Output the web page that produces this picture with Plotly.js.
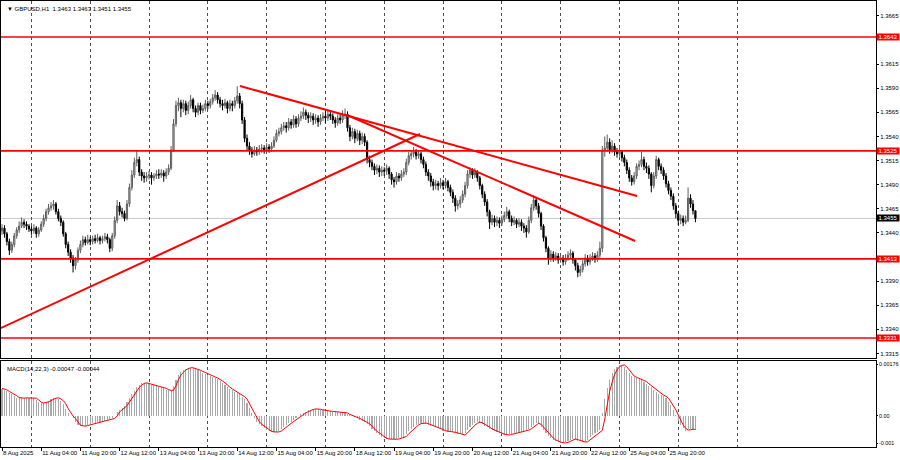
<!DOCTYPE html>
<html><head><meta charset="utf-8">
<script src="https://cdn.plot.ly/plotly-3.0.1.min.js"></script>
<style>html,body{margin:0;padding:0;background:#fff}#chart{width:900px;height:460px}</style>
</head><body><div id="chart"></div>
<script>
const symbolTitle = "\u25BC GBPUSD,H1  1.3463 1.3463 1.3451 1.3455";
const macdTitle = "MACD(14,22,3) -0.00047 -0.00044";

const open = [1.3442,1.3445,1.3439,1.3431,1.3422,1.3428,1.3437,1.3443,1.3447,1.3451,
1.3449,1.3447,1.3444,1.3442,1.3445,1.3439,1.3443,1.3449,1.3455,1.3462,
1.3466,1.3468,1.3470,1.3462,1.3455,1.3451,1.3439,1.3428,1.3420,1.3414,
1.3406,1.3412,1.3422,1.3428,1.3433,1.3430,1.3433,1.3431,1.3434,1.3432,
1.3435,1.3432,1.3434,1.3436,1.3433,1.3424,1.3437,1.3453,1.3468,1.3462,
1.3460,1.3455,1.3470,1.3487,1.3500,1.3513,1.3516,1.3503,1.3499,1.3497,
1.3499,1.3500,1.3497,1.3499,1.3501,1.3500,1.3502,1.3499,1.3503,1.3507,
1.3526,1.3553,1.3572,1.3575,1.3569,1.3574,1.3567,1.3572,1.3578,1.3569,
1.3565,1.3572,1.3567,1.3569,1.3574,1.3572,1.3576,1.3580,1.3583,1.3578,
1.3574,1.3572,1.3575,1.3569,1.3574,1.3572,1.3577,1.3582,1.3574,1.3557,
1.3538,1.3530,1.3526,1.3522,1.3526,1.3524,1.3527,1.3528,1.3526,1.3529,
1.3527,1.3530,1.3536,1.3543,1.3545,1.3549,1.3551,1.3549,1.3555,1.3552,
1.3558,1.3553,1.3559,1.3561,1.3565,1.3562,1.3559,1.3561,1.3557,1.3559,
1.3555,1.3559,1.3561,1.3559,1.3563,1.3561,1.3557,1.3554,1.3559,1.3557,
1.3562,1.3563,1.3549,1.3540,1.3545,1.3538,1.3543,1.3536,1.3540,1.3534,
1.3516,1.3513,1.3509,1.3505,1.3507,1.3503,1.3505,1.3504,1.3507,1.3501,
1.3495,1.3493,1.3499,1.3497,1.3501,1.3503,1.3513,1.3520,1.3522,1.3524,
1.3520,1.3522,1.3516,1.3511,1.3503,1.3499,1.3493,1.3489,1.3491,1.3489,
1.3492,1.3489,1.3493,1.3487,1.3482,1.3476,1.3468,1.3470,1.3474,1.3480,
1.3489,1.3501,1.3505,1.3500,1.3503,1.3497,1.3489,1.3480,1.3472,1.3462,
1.3451,1.3455,1.3451,1.3453,1.3450,1.3454,1.3458,1.3462,1.3455,1.3451,
1.3453,1.3449,1.3451,1.3447,1.3445,1.3441,1.3453,1.3466,1.3474,1.3468,
1.3460,1.3447,1.3435,1.3424,1.3414,1.3418,1.3414,1.3416,1.3412,1.3414,
1.3410,1.3414,1.3417,1.3419,1.3412,1.3406,1.3399,1.3402,1.3408,1.3414,
1.3410,1.3414,1.3416,1.3413,1.3417,1.3424,1.3526,1.3528,1.3534,1.3526,
1.3530,1.3524,1.3522,1.3524,1.3518,1.3513,1.3505,1.3497,1.3493,1.3499,
1.3509,1.3511,1.3516,1.3509,1.3507,1.3501,1.3489,1.3499,1.3516,1.3509,
1.3505,1.3499,1.3491,1.3484,1.3478,1.3468,1.3460,1.3453,1.3455,1.3451,
1.3453,1.3476,1.3470,1.3463];

const high = [1.3449,1.3448,1.3441,1.3434,1.3431,1.3440,1.3446,1.3452,1.3456,1.3454,
1.3452,1.3449,1.3447,1.3449,1.3447,1.3446,1.3452,1.3459,1.3465,1.3470,
1.3472,1.3474,1.3472,1.3465,1.3458,1.3453,1.3441,1.3431,1.3423,1.3417,
1.3415,1.3425,1.3432,1.3437,1.3436,1.3438,1.3436,1.3437,1.3438,1.3439,
1.3437,1.3437,1.3440,1.3439,1.3435,1.3440,1.3457,1.3474,1.3472,1.3466,
1.3463,1.3474,1.3491,1.3505,1.3518,1.3526,1.3519,1.3506,1.3503,1.3503,
1.3504,1.3503,1.3502,1.3505,1.3506,1.3506,1.3505,1.3507,1.3511,1.3530,
1.3558,1.3577,1.3580,1.3578,1.3578,1.3577,1.3576,1.3583,1.3580,1.3572,
1.3575,1.3575,1.3573,1.3578,1.3577,1.3579,1.3584,1.3588,1.3586,1.3581,
1.3578,1.3579,1.3577,1.3578,1.3577,1.3581,1.3592,1.3585,1.3577,1.3560,
1.3542,1.3534,1.3529,1.3530,1.3529,1.3531,1.3532,1.3531,1.3533,1.3532,
1.3534,1.3540,1.3547,1.3549,1.3553,1.3555,1.3555,1.3559,1.3558,1.3562,
1.3561,1.3563,1.3566,1.3570,1.3568,1.3565,1.3565,1.3564,1.3563,1.3562,
1.3563,1.3565,1.3566,1.3567,1.3566,1.3564,1.3560,1.3563,1.3563,1.3567,
1.3569,1.3566,1.3552,1.3549,1.3548,1.3547,1.3546,1.3544,1.3543,1.3536,
1.3520,1.3516,1.3512,1.3511,1.3510,1.3509,1.3508,1.3511,1.3509,1.3503,
1.3498,1.3503,1.3502,1.3505,1.3507,1.3517,1.3524,1.3526,1.3529,1.3527,
1.3526,1.3524,1.3519,1.3514,1.3506,1.3502,1.3496,1.3495,1.3494,1.3497,
1.3495,1.3497,1.3495,1.3490,1.3485,1.3479,1.3474,1.3478,1.3484,1.3493,
1.3505,1.3508,1.3507,1.3507,1.3505,1.3499,1.3491,1.3483,1.3475,1.3464,
1.3459,1.3458,1.3457,1.3456,1.3458,1.3462,1.3467,1.3464,1.3458,1.3457,
1.3455,1.3455,1.3454,1.3450,1.3448,1.3457,1.3470,1.3479,1.3477,1.3471,
1.3462,1.3449,1.3437,1.3426,1.3422,1.3421,1.3420,1.3419,1.3418,1.3417,
1.3418,1.3421,1.3423,1.3421,1.3414,1.3409,1.3406,1.3412,1.3418,1.3417,
1.3418,1.3420,1.3419,1.3421,1.3431,1.3530,1.3540,1.3542,1.3538,1.3536,
1.3533,1.3528,1.3529,1.3526,1.3521,1.3516,1.3508,1.3500,1.3503,1.3512,
1.3515,1.3524,1.3519,1.3513,1.3510,1.3503,1.3503,1.3520,1.3518,1.3512,
1.3508,1.3502,1.3494,1.3487,1.3481,1.3471,1.3463,1.3459,1.3458,1.3458,
1.3487,1.3480,1.3474,1.3463];

const low = [1.3438,1.3435,1.3427,1.3417,1.3419,1.3425,1.3434,1.3440,1.3445,1.3445,
1.3443,1.3441,1.3438,1.3439,1.3435,1.3436,1.3441,1.3446,1.3452,1.3459,
1.3463,1.3464,1.3459,1.3452,1.3447,1.3436,1.3424,1.3416,1.3409,1.3399,
1.3402,1.3409,1.3419,1.3425,1.3427,1.3428,1.3427,1.3428,1.3429,1.3430,
1.3428,1.3429,1.3431,1.3429,1.3420,1.3421,1.3434,1.3450,1.3458,1.3456,
1.3452,1.3453,1.3467,1.3484,1.3497,1.3509,1.3499,1.3494,1.3492,1.3493,
1.3495,1.3490,1.3494,1.3496,1.3496,1.3497,1.3493,1.3496,1.3500,1.3505,
1.3524,1.3550,1.3566,1.3560,1.3565,1.3562,1.3563,1.3569,1.3565,1.3560,
1.3562,1.3563,1.3564,1.3566,1.3568,1.3569,1.3573,1.3577,1.3574,1.3570,
1.3567,1.3569,1.3564,1.3566,1.3566,1.3569,1.3574,1.3569,1.3553,1.3534,
1.3525,1.3521,1.3518,1.3520,1.3520,1.3521,1.3523,1.3522,1.3523,1.3523,
1.3524,1.3528,1.3534,1.3540,1.3542,1.3546,1.3544,1.3546,1.3548,1.3549,
1.3549,1.3550,1.3556,1.3558,1.3557,1.3554,1.3555,1.3552,1.3553,1.3550,
1.3552,1.3556,1.3554,1.3556,1.3557,1.3553,1.3549,1.3551,1.3553,1.3554,
1.3558,1.3545,1.3535,1.3537,1.3533,1.3535,1.3531,1.3532,1.3530,1.3512,
1.3508,1.3505,1.3500,1.3501,1.3498,1.3499,1.3499,1.3500,1.3496,1.3490,
1.3487,1.3490,1.3493,1.3494,1.3498,1.3500,1.3510,1.3516,1.3518,1.3516,
1.3517,1.3512,1.3507,1.3499,1.3494,1.3488,1.3484,1.3485,1.3484,1.3486,
1.3485,1.3486,1.3483,1.3478,1.3471,1.3462,1.3464,1.3466,1.3471,1.3477,
1.3486,1.3497,1.3496,1.3497,1.3493,1.3485,1.3476,1.3468,1.3457,1.3444,
1.3448,1.3446,1.3447,1.3445,1.3447,1.3451,1.3455,1.3451,1.3447,1.3448,
1.3445,1.3446,1.3442,1.3440,1.3435,1.3439,1.3450,1.3463,1.3464,1.3456,
1.3443,1.3431,1.3420,1.3407,1.3410,1.3410,1.3411,1.3408,1.3409,1.3406,
1.3407,1.3411,1.3413,1.3408,1.3401,1.3394,1.3395,1.3399,1.3405,1.3406,
1.3407,1.3411,1.3409,1.3410,1.3414,1.3420,1.3519,1.3524,1.3522,1.3523,
1.3520,1.3518,1.3519,1.3514,1.3509,1.3501,1.3493,1.3489,1.3490,1.3496,
1.3505,1.3508,1.3505,1.3502,1.3496,1.3482,1.3486,1.3496,1.3505,1.3501,
1.3495,1.3487,1.3480,1.3474,1.3464,1.3455,1.3448,1.3449,1.3447,1.3449,
1.3451,1.3466,1.3459,1.3451];

const close = [1.3445,1.3439,1.3431,1.3422,1.3428,1.3437,1.3443,1.3447,1.3451,1.3449,
1.3447,1.3444,1.3442,1.3445,1.3439,1.3443,1.3449,1.3455,1.3462,1.3466,
1.3468,1.3470,1.3462,1.3455,1.3451,1.3439,1.3428,1.3420,1.3414,1.3406,
1.3412,1.3422,1.3428,1.3433,1.3430,1.3433,1.3431,1.3434,1.3432,1.3435,
1.3432,1.3434,1.3436,1.3433,1.3424,1.3437,1.3453,1.3468,1.3462,1.3460,
1.3455,1.3470,1.3487,1.3500,1.3513,1.3516,1.3503,1.3499,1.3497,1.3499,
1.3500,1.3497,1.3499,1.3501,1.3500,1.3502,1.3499,1.3503,1.3507,1.3526,
1.3553,1.3572,1.3575,1.3569,1.3574,1.3567,1.3572,1.3578,1.3569,1.3565,
1.3572,1.3567,1.3569,1.3574,1.3572,1.3576,1.3580,1.3583,1.3578,1.3574,
1.3572,1.3575,1.3569,1.3574,1.3572,1.3577,1.3582,1.3574,1.3557,1.3538,
1.3530,1.3526,1.3522,1.3526,1.3524,1.3527,1.3528,1.3526,1.3529,1.3527,
1.3530,1.3536,1.3543,1.3545,1.3549,1.3551,1.3549,1.3555,1.3552,1.3558,
1.3553,1.3559,1.3561,1.3565,1.3562,1.3559,1.3561,1.3557,1.3559,1.3555,
1.3559,1.3561,1.3559,1.3563,1.3561,1.3557,1.3554,1.3559,1.3557,1.3562,
1.3563,1.3549,1.3540,1.3545,1.3538,1.3543,1.3536,1.3540,1.3534,1.3516,
1.3513,1.3509,1.3505,1.3507,1.3503,1.3505,1.3504,1.3507,1.3501,1.3495,
1.3493,1.3499,1.3497,1.3501,1.3503,1.3513,1.3520,1.3522,1.3524,1.3520,
1.3522,1.3516,1.3511,1.3503,1.3499,1.3493,1.3489,1.3491,1.3489,1.3492,
1.3489,1.3493,1.3487,1.3482,1.3476,1.3468,1.3470,1.3474,1.3480,1.3489,
1.3501,1.3505,1.3500,1.3503,1.3497,1.3489,1.3480,1.3472,1.3462,1.3451,
1.3455,1.3451,1.3453,1.3450,1.3454,1.3458,1.3462,1.3455,1.3451,1.3453,
1.3449,1.3451,1.3447,1.3445,1.3441,1.3453,1.3466,1.3474,1.3468,1.3460,
1.3447,1.3435,1.3424,1.3414,1.3418,1.3414,1.3416,1.3412,1.3414,1.3410,
1.3414,1.3417,1.3419,1.3412,1.3406,1.3399,1.3402,1.3408,1.3414,1.3410,
1.3414,1.3416,1.3413,1.3417,1.3424,1.3526,1.3528,1.3534,1.3526,1.3530,
1.3524,1.3522,1.3524,1.3518,1.3513,1.3505,1.3497,1.3493,1.3499,1.3509,
1.3511,1.3516,1.3509,1.3507,1.3501,1.3489,1.3499,1.3516,1.3509,1.3505,
1.3499,1.3491,1.3484,1.3478,1.3468,1.3460,1.3453,1.3455,1.3451,1.3453,
1.3476,1.3470,1.3463,1.3455];

// MACD values in units of 0.00001
const macdMainPts = [88,85,80,76,72,66,60,58,58,59,
59,60,59,58,52,45,42,43,46,50,
54,58,59,56,50,40,24,10,0,-8,
-20,-30,-32,-33,-31,-29,-27,-24,-22,-20,
-18,-17,-15,-13,-11,-8,0,13,20,26,
33,45,58,70,82,93,100,106,108,106,
104,102,100,98,96,93,90,86,83,84,
98,118,133,142,150,154,157,157,155,152,
149,145,141,137,133,130,127,124,120,114,
108,100,94,88,83,79,75,70,63,55,
42,25,10,-5,-18,-27,-33,-39,-45,-50,
-52,-52,-52,-49,-42,-36,-30,-24,-18,-12,
-6,0,5,10,14,18,21,23,23,22,
20,18,17,16,15,14,14,13,13,12,
10,5,2,0,-4,-8,-12,-16,-19,-25,
-33,-42,-50,-55,-62,-68,-73,-75,-76,-76,
-76,-75,-73,-71,-67,-58,-50,-42,-35,-29,
-25,-23,-23,-25,-28,-31,-34,-36,-39,-44,
-48,-50,-51,-52,-53,-55,-58,-60,-62,-55,
-46,-36,-30,-24,-20,-22,-26,-31,-36,-42,
-46,-50,-53,-56,-59,-61,-62,-60,-58,-56,
-54,-52,-51,-49,-46,-42,-36,-28,-24,-27,
-36,-46,-56,-65,-72,-78,-82,-85,-87,-88,
-86,-82,-78,-75,-77,-80,-83,-85,-84,-78,
-70,-63,-57,-52,-47,10,55,90,118,140,
152,160,165,166,160,150,140,130,126,123,
120,117,112,105,99,93,86,78,72,68,
64,58,46,35,20,3,-15,-29,-40,-48,
-44,-42,-44,-47];

const macdSignalPts = [90,88,85,80,76,72,66,60,58,58,
59,59,60,59,58,52,45,42,43,46,
50,54,58,59,56,50,40,24,10,0,
-8,-20,-30,-32,-33,-31,-29,-27,-24,-22,
-20,-18,-17,-15,-13,-11,-8,0,13,20,
26,33,45,58,70,82,93,100,106,108,
106,104,102,100,98,96,93,90,86,83,
84,98,118,133,142,150,154,157,157,155,
152,149,145,141,137,133,130,127,124,120,
114,108,100,94,88,83,79,75,70,63,
55,42,25,10,-5,-18,-27,-33,-39,-45,
-50,-52,-52,-52,-49,-42,-36,-30,-24,-18,
-12,-6,0,5,10,14,18,21,23,23,
22,20,18,17,16,15,14,14,13,13,
12,10,5,2,0,-4,-8,-12,-16,-19,
-25,-33,-42,-50,-55,-62,-68,-73,-75,-76,
-76,-76,-75,-73,-71,-67,-58,-50,-42,-35,
-29,-25,-23,-23,-25,-28,-31,-34,-36,-39,
-44,-48,-50,-51,-52,-53,-55,-58,-60,-62,
-55,-46,-36,-30,-24,-20,-22,-26,-31,-36,
-42,-46,-50,-53,-56,-59,-61,-62,-60,-58,
-56,-54,-52,-51,-49,-46,-42,-36,-28,-24,
-27,-36,-46,-56,-65,-72,-78,-82,-85,-87,
-88,-86,-82,-78,-75,-77,-80,-83,-85,-84,
-78,-70,-63,-57,-52,-47,-10,40,80,110,
135,150,160,165,166,160,150,140,130,126,
123,120,117,112,105,99,93,86,78,72,
68,64,58,46,35,20,3,-15,-29,-40,
-46,-45,-43,-44];

const levels = [1.3643, 1.3525, 1.3413, 1.3331];
const levelText = ["1.3643", "1.3525", "1.3413", "1.3331"];
const bidPrice = 1.3455;
const bidText = "1.3455";

// trend lines: bar index / price of end points
const trendUpIdx = [-1, 170.6], trendUpPrice = [1.33407, 1.35425];
const trendAIdx = [97.1, 259.2], trendAPrice = [1.35923, 1.34782];
const trendBIdx = [140.8, 258.4], trendBPrice = [1.35622, 1.34316];

const timeTickIdx = [0,16,32,48,64,80,96,112,128,144,160,176,192,208,224,240,256,272];
const timeTickText = ["8 Aug 2025","11 Aug 04:00","11 Aug 20:00","12 Aug 12:00","13 Aug 04:00",
"13 Aug 20:00","14 Aug 12:00","15 Aug 04:00","15 Aug 20:00","18 Aug 12:00","19 Aug 04:00",
"19 Aug 20:00","20 Aug 12:00","21 Aug 04:00","21 Aug 20:00","22 Aug 12:00","25 Aug 04:00","25 Aug 20:00"];
const dayStartIdx = [12,36,60,84,108,132,156,180,204,228,252,276,300];
const priceTicks = [1.3315,1.3340,1.3365,1.3390,1.3440,1.3465,1.3490,1.3515,1.3540,1.3565,1.3590,1.3615,1.3665];
const macdTickVals = [0.00169, 0, -0.00088];
const macdTickText = ["0.00176", "0.00", "-0.001"];

const barIdx = close.map((_, i) => i);
const macdMain = macdMainPts.map(v => v * 1e-5);
const macdSignal = macdSignalPts.map(v => v * 1e-5);

const FONT = "Liberation Sans, Arial, sans-serif";
const xRange = [-0.41, 356.7];

const traces = [
  {type:'candlestick', x:barIdx, open:open, high:high, low:low, close:close,
   xaxis:'x', yaxis:'y', whiskerwidth:0, hoverinfo:'skip',
   increasing:{line:{color:'#5e5e5e', width:1}, fillcolor:'#c4c4c4'},
   decreasing:{line:{color:'#000000', width:1}, fillcolor:'#000000'}},
  {type:'scatter', mode:'lines', x:trendUpIdx, y:trendUpPrice, xaxis:'x', yaxis:'y',
   line:{color:'#ff0000', width:2}, hoverinfo:'skip'},
  {type:'scatter', mode:'lines', x:trendAIdx, y:trendAPrice, xaxis:'x', yaxis:'y',
   line:{color:'#ff0000', width:2}, hoverinfo:'skip'},
  {type:'scatter', mode:'lines', x:trendBIdx, y:trendBPrice, xaxis:'x', yaxis:'y',
   line:{color:'#ff0000', width:2}, hoverinfo:'skip'},
  {type:'bar', x:barIdx, y:macdMain, xaxis:'x2', yaxis:'y2', width:0.45,
   marker:{color:'#a9a9a9', line:{width:0}}, hoverinfo:'skip'},
  {type:'scatter', mode:'lines', x:barIdx, y:macdSignal, xaxis:'x2', yaxis:'y2',
   line:{color:'#ff0000', width:1}, hoverinfo:'skip'}
];

const shapes = [{type:'line', xref:'paper', x0:0, x1:1, yref:'y', y0:bidPrice, y1:bidPrice,
  line:{color:'#c8c8c8', width:1}, layer:'below'}];
levels.forEach(l => shapes.push({type:'line', xref:'paper', x0:0, x1:1, yref:'y', y0:l, y1:l,
  line:{color:'#ff0000', width:1.6}}));

const annotations = [
  {xref:'paper', yref:'paper', x:0, y:1, xanchor:'left', yanchor:'top', xshift:4, yshift:-3,
   text:symbolTitle, showarrow:false, font:{family:FONT, size:6, color:'#000'}},
  {xref:'paper', yref:'y2 domain', x:0, y:1, xanchor:'left', yanchor:'top', xshift:4, yshift:-3,
   text:macdTitle, showarrow:false, font:{family:FONT, size:6, color:'#000'}}
];
levels.forEach((l, k) => annotations.push({xref:'paper', yref:'y', x:1, y:l, xanchor:'left', yanchor:'middle',
  text:levelText[k], showarrow:false, bgcolor:'#ff0000', width:22, borderpad:0,
  font:{family:FONT, size:6, color:'#ffffff'}}));
annotations.push({xref:'paper', yref:'y', x:1, y:bidPrice, xanchor:'left', yanchor:'middle',
  text:bidText, showarrow:false, bgcolor:'#000000', width:22, borderpad:0,
  font:{family:FONT, size:6, color:'#ffffff'}});

const minorGrid = {tickvals:dayStartIdx, showgrid:true, griddash:'dot', gridcolor:'#505050', gridwidth:1, ticks:''};

const layout = {
  width:900, height:460, margin:{l:1, r:24, t:1, b:13, pad:0, autoexpand:false},
  paper_bgcolor:'#ffffff', plot_bgcolor:'#ffffff', showlegend:false, hovermode:false,
  font:{family:FONT, size:6, color:'#000'},
  bargap:0,
  xaxis:{domain:[0,1], anchor:'y', range:xRange, showticklabels:false, ticks:'', showgrid:false,
    zeroline:false, rangeslider:{visible:false}, showline:true, linecolor:'#000', linewidth:1, mirror:true,
    minor:minorGrid},
  yaxis:{domain:[0.1996,1], anchor:'x', side:'right', range:[1.33103,1.36804], tickmode:'array',
    tickvals:priceTicks, tickformat:'.4f', ticks:'outside', ticklen:2, tickcolor:'#000',
    showgrid:false, zeroline:false, showline:true, linecolor:'#000', mirror:true, automargin:false,
    tickfont:{family:FONT, size:6, color:'#000'}},
  xaxis2:{domain:[0,1], anchor:'y2', range:xRange, matches:'x', tickmode:'array', tickvals:timeTickIdx,
    ticktext:timeTickText, tickangle:0, ticks:'outside', ticklen:3, tickcolor:'#000', ticklabelposition:'outside right',
    showgrid:false, zeroline:false, showline:true, linecolor:'#000', mirror:true, automargin:false,
    tickfont:{family:FONT, size:6, color:'#000'}, minor:minorGrid},
  yaxis2:{domain:[0,0.1928], anchor:'x2', side:'right', range:[-0.00101,0.00179], tickmode:'array',
    tickvals:macdTickVals, ticktext:macdTickText, ticks:'outside', ticklen:1, tickcolor:'#000',
    showgrid:false, zeroline:false, showline:true, linecolor:'#000', mirror:true, automargin:false,
    ticklabelstandoff:0, tickfont:{family:FONT, size:5.4, color:'#000'}},
  shapes:shapes, annotations:annotations
};

Plotly.newPlot('chart', traces, layout, {displayModeBar:false, staticPlot:true});
</script></body></html>
